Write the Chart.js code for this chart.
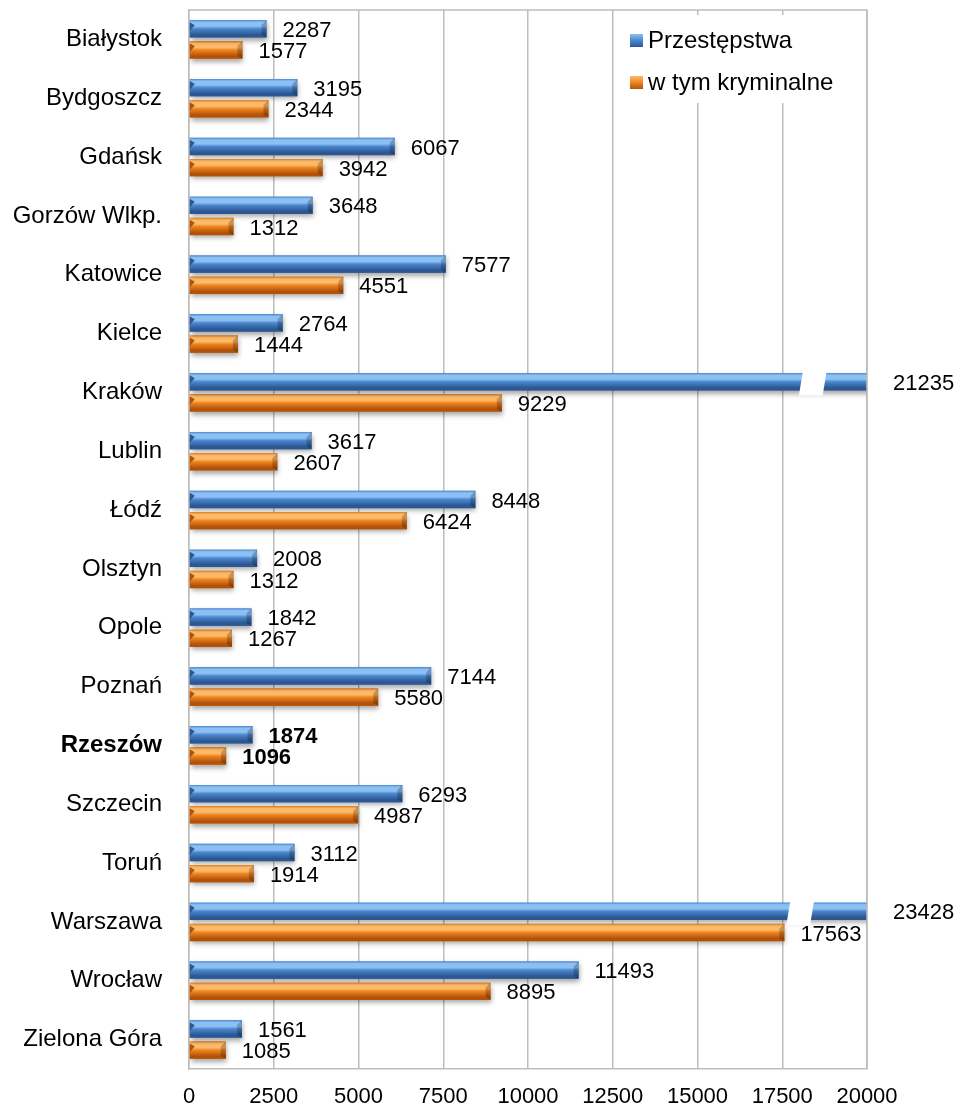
<!DOCTYPE html>
<html>
<head>
<meta charset="utf-8">
<script src="https://cdn.jsdelivr.net/npm/chart.js@4.4.0/dist/chart.umd.min.js"></script>
<style>
html, body { margin: 0; background: #fff; }
#wrap { width: 960px; height: 1108px; }
</style>
</head>
<body>
<div id="wrap"><canvas id="chart"></canvas></div>
<script>
// data
const cities = ['Białystok', 'Bydgoszcz', 'Gdańsk', 'Gorzów Wlkp.', 'Katowice', 'Kielce', 'Kraków', 'Lublin', 'Łódź',
    'Olsztyn', 'Opole', 'Poznań', 'Rzeszów', 'Szczecin', 'Toruń', 'Warszawa', 'Wrocław', 'Zielona Góra'];
const przestepstwa = [2287, 3195, 6067, 3648, 7577, 2764, 21235, 3617, 8448, 2008, 1842, 7144, 1874, 6293, 3112, 23428, 11493, 1561];
const kryminalne = [1577, 2344, 3942, 1312, 4551, 1444, 9229, 2607, 6424, 1312, 1267, 5580, 1096, 4987, 1914, 17563, 8895, 1085];
const seriesNames = ['Przestępstwa', 'w tym kryminalne'];
const xTicks = [0, 2500, 5000, 7500, 10000, 12500, 15000, 17500, 20000];
const boldCity = 'Rzeszów';

const FONT = '"Liberation Sans", Arial, sans-serif';
const GRID = '#bdbdbd';
const colors = [
    { light: '#8cc0f2', mid: '#4a86cf', dark: '#2c5791' },
    { light: '#fdbb6a', mid: '#ef8520', dark: '#b2520a' }
];

// bars cut at the axis end get a white gap, like the original
const breakAt = { 'Kraków': 18050, 'Warszawa': 17680 };

function barGradient(ctx, top, bottom, c) {
    const g = ctx.createLinearGradient(0, top, 0, bottom);
    g.addColorStop(0, c.mid);
    g.addColorStop(0.12, c.light);
    g.addColorStop(0.35, c.light);
    g.addColorStop(0.5, c.mid);
    g.addColorStop(0.85, c.dark);
    g.addColorStop(1, c.dark);
    return g;
}

// shadow under bars + bevel shading on top of them
const barStyle = {
    id: 'barStyle',
    beforeDatasetDraw(chart) {
        const ctx = chart.ctx;
        ctx.save();
        ctx.shadowColor = 'rgba(0,0,0,0.35)';
        ctx.shadowBlur = 5;
        ctx.shadowOffsetX = 1;
        ctx.shadowOffsetY = 3;
    },
    afterDatasetDraw(chart, args) {
        const ctx = chart.ctx;
        ctx.restore();
        const area = chart.chartArea;
        const c = colors[args.index];
        ctx.save();
        ctx.beginPath();
        ctx.rect(area.left, area.top, area.right - area.left, area.bottom - area.top);
        ctx.clip();
        args.meta.data.forEach(bar => {
            const p = bar.getProps(['x', 'y', 'base', 'height'], true);
            const top = p.y - p.height / 2, bottom = p.y + p.height / 2;
            const left = p.base, right = Math.min(p.x, area.right);
            ctx.fillStyle = barGradient(ctx, top, bottom, c);
            ctx.fillRect(left, top, right - left, p.height);
            // left bevel
            ctx.fillStyle = c.dark;
            ctx.beginPath();
            ctx.moveTo(left, top + 2);
            ctx.lineTo(left + 5, top + 5);
            ctx.lineTo(left, p.y + 2);
            ctx.closePath();
            ctx.fill();
            // right bevel
            if (p.x <= area.right) {
                ctx.fillStyle = 'rgba(0,0,0,0.22)';
                ctx.beginPath();
                ctx.moveTo(right, top);
                ctx.lineTo(right - 5, top + 5);
                ctx.lineTo(right - 5, bottom - 3);
                ctx.lineTo(right, bottom);
                ctx.closePath();
                ctx.fill();
            }
        });
        ctx.restore();
    }
};

const breaks = {
    id: 'breaks',
    afterDatasetsDraw(chart) {
        const ctx = chart.ctx;
        const xs = chart.scales.x;
        chart.data.datasets.forEach((ds, di) => {
            chart.getDatasetMeta(di).data.forEach((bar, i) => {
                const v = breakAt[cities[i]];
                if (!v || ds.data[i] <= xs.max) return;
                const p = bar.getProps(['y', 'height'], true);
                const x0 = xs.getPixelForValue(v), x1 = xs.getPixelForValue(v + 700);
                const top = p.y - p.height / 2 - 2, bottom = p.y + p.height / 2 + 5;
                ctx.save();
                ctx.fillStyle = '#fff';
                ctx.beginPath();
                ctx.moveTo(x0 + 2, top);
                ctx.lineTo(x1 + 2, top);
                ctx.lineTo(x1 - 2, bottom);
                ctx.lineTo(x0 - 2, bottom);
                ctx.closePath();
                ctx.fill();
                ctx.restore();
            });
        });
    }
};

const valueLabels = {
    id: 'valueLabels',
    afterDatasetsDraw(chart) {
        const ctx = chart.ctx;
        const area = chart.chartArea;
        ctx.save();
        ctx.fillStyle = '#000';
        ctx.textAlign = 'left';
        ctx.textBaseline = 'middle';
        chart.data.datasets.forEach((ds, di) => {
            chart.getDatasetMeta(di).data.forEach((bar, i) => {
                const clipped = bar.x > area.right;
                const x = Math.min(bar.x, area.right) + (clipped ? 26 : 16);
                ctx.font = (cities[i] === boldCity ? 'bold ' : '') + '22px ' + FONT;
                ctx.fillText(String(ds.data[i]), x, bar.y + 2);
            });
        });
        ctx.restore();
    }
};

const frameAndLegend = {
    id: 'frameAndLegend',
    afterDraw(chart) {
        const ctx = chart.ctx;
        const a = chart.chartArea;
        ctx.save();
        ctx.strokeStyle = GRID;
        ctx.lineWidth = 1.5;
        ctx.beginPath();
        ctx.moveTo(a.left, a.top);
        ctx.lineTo(a.right, a.top);
        ctx.lineTo(a.right, a.bottom);
        ctx.stroke();

        // legend box in the top right corner of the plot
        const lx = a.right - 247, ly = a.top + 5;
        ctx.fillStyle = '#fff';
        ctx.fillRect(lx, ly, 245, 88);
        ctx.font = '24px ' + FONT;
        ctx.textBaseline = 'middle';
        seriesNames.forEach((name, k) => {
            const cy = ly + 25 + k * 42;
            const c = colors[k];
            const g = ctx.createLinearGradient(0, cy - 6, 0, cy + 7);
            g.addColorStop(0, c.light);
            g.addColorStop(0.5, c.mid);
            g.addColorStop(1, c.dark);
            ctx.fillStyle = g;
            ctx.fillRect(lx + 10, cy - 6, 13, 13);
            ctx.fillStyle = '#000';
            ctx.fillText(name, lx + 28, cy + 1);
        });
        ctx.restore();
    }
};

new Chart(document.getElementById('chart'), {
    type: 'bar',
    data: {
        labels: cities,
        datasets: [
            { label: seriesNames[0], data: przestepstwa, backgroundColor: colors[0].mid },
            { label: seriesNames[1], data: kryminalne, backgroundColor: colors[1].mid }
        ]
    },
    options: {
        indexAxis: 'y',
        responsive: true,
        maintainAspectRatio: false,
        animation: false,
        barPercentage: 0.82,
        categoryPercentage: 0.72,
        layout: { padding: { top: 10, right: 93, left: 0, bottom: 0 }, autoPadding: false },
        plugins: {
            legend: { display: false },
            tooltip: { enabled: false }
        },
        scales: {
            x: {
                min: xTicks[0],
                max: xTicks[xTicks.length - 1],
                afterBuildTicks: scale => { scale.ticks = xTicks.map(v => ({ value: v })); },
                afterFit: scale => {
                    scale.height = 39;
                    scale.paddingLeft = 0; scale.paddingRight = 0;
                },
                ticks: {
                    color: '#000',
                    font: { family: FONT, size: 22 },
                    padding: 15,
                    maxRotation: 0,
                    callback: v => String(v)
                },
                grid: { color: GRID, lineWidth: 1.5, drawTicks: false },
                border: { color: GRID, width: 1.5 }
            },
            y: {
                afterFit: scale => {
                    scale.width = 189;
                    scale.paddingTop = 0; scale.paddingBottom = 0;
                },
                ticks: {
                    color: '#000',
                    padding: 27,
                    font: ctx => ({
                        family: FONT,
                        size: 24,
                        weight: cities[ctx.index] === boldCity ? 'bold' : 'normal'
                    })
                },
                grid: { display: false, drawTicks: false },
                border: { color: GRID, width: 1.5 }
            }
        }
    },
    plugins: [barStyle, breaks, valueLabels, frameAndLegend]
});
</script>
</body>
</html>
